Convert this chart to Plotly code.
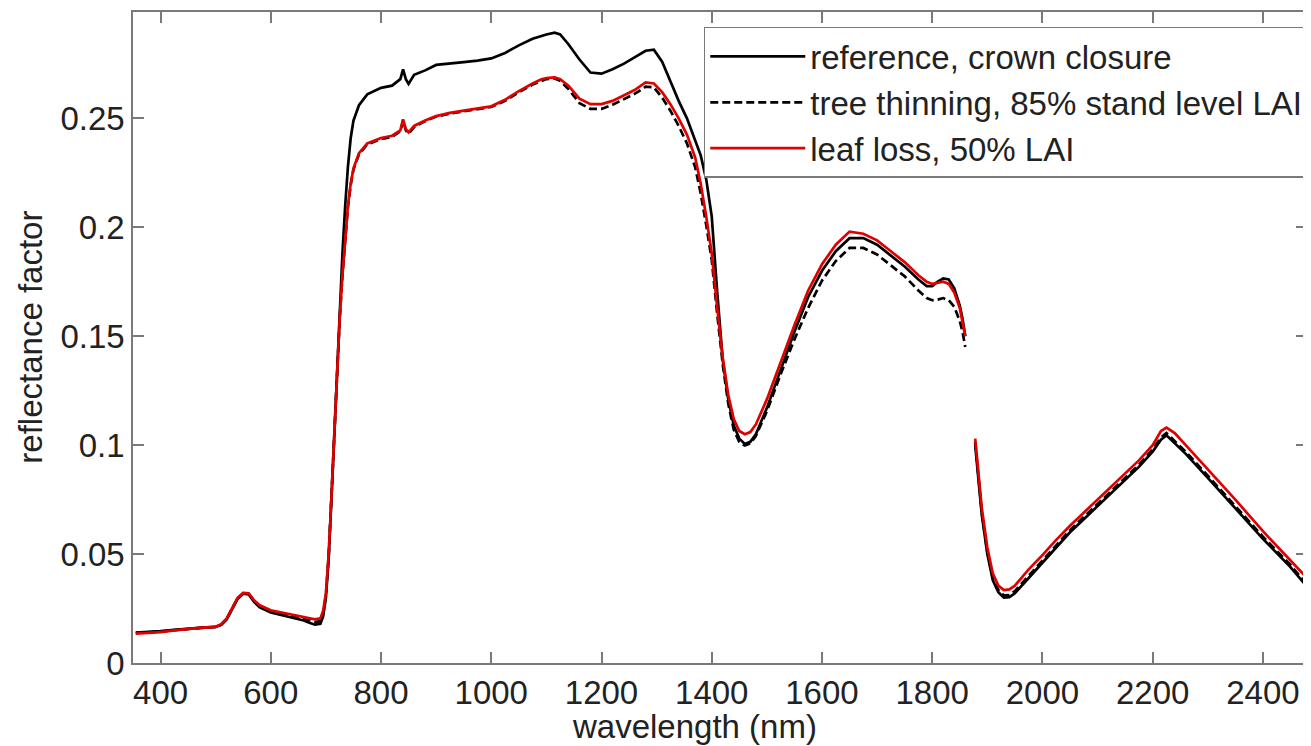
import plotly.graph_objects as go

# wavelengths (nm); None marks the water-absorption gap
wavelength = [355, 380, 400, 425, 450, 475, 500, 510, 520, 530, 540, 550, 560, 570, 580,
              600, 620, 640, 660, 670, 680, 690, 695, 700, 705, 710, 715, 720, 725, 730,
              735, 740, 745, 750, 760, 775, 800, 820, 835, 840, 845, 850, 860, 880, 900,
              925, 950, 975, 1000, 1025, 1050, 1075, 1090, 1100, 1115, 1125, 1140, 1160,
              1180, 1200, 1220, 1240, 1260, 1280, 1295, 1310, 1325, 1340, 1355, 1370,
              1380, 1390, 1400, 1410, 1420, 1430, 1440, 1450, 1460, 1470, 1480, 1500,
              1525, 1550, 1575, 1600, 1625, 1650, 1675, 1700, 1725, 1750, 1775, 1790,
              1800, 1810, 1820, 1830, 1840, 1850, 1855, 1860, 1869,
              1878, 1885, 1890, 1900, 1910, 1920, 1930, 1940, 1950, 1975, 2000, 2025,
              2050, 2075, 2100, 2125, 2150, 2175, 2200, 2215, 2225, 2240, 2260, 2300,
              2350, 2400, 2450, 2480]

reference = [0.0140, 0.0142, 0.0146, 0.0152, 0.0158, 0.0162, 0.0166, 0.0175, 0.0200, 0.0250,
             0.0295, 0.0318, 0.0315, 0.0280, 0.0255, 0.0232, 0.0220, 0.0208, 0.0195, 0.0185,
             0.0176, 0.0180, 0.0215, 0.030, 0.048, 0.075, 0.105, 0.135, 0.163, 0.188,
             0.210, 0.228, 0.241, 0.249, 0.256, 0.261, 0.264, 0.265, 0.268, 0.2725,
             0.268, 0.2658, 0.270, 0.272, 0.2745, 0.275, 0.2758, 0.2765, 0.2775, 0.280,
             0.2835, 0.2865, 0.2878, 0.2885, 0.2893, 0.2885, 0.284, 0.277, 0.271, 0.2705,
             0.2725, 0.275, 0.278, 0.281, 0.2815, 0.276, 0.267, 0.258, 0.250, 0.240,
             0.233, 0.222, 0.205, 0.170, 0.139, 0.121, 0.109, 0.103, 0.1005, 0.1015,
             0.105, 0.117, 0.135, 0.152, 0.168, 0.180, 0.189, 0.195, 0.195, 0.192,
             0.187, 0.182, 0.176, 0.173, 0.173, 0.175, 0.1765, 0.176, 0.172, 0.164,
             0.158, 0.150, None,
             0.100, 0.080, 0.068, 0.050, 0.038, 0.0325, 0.0300, 0.0302, 0.032, 0.039,
             0.046, 0.053, 0.060, 0.066, 0.072, 0.078, 0.084, 0.090, 0.097, 0.1025,
             0.1045, 0.101, 0.096, 0.085, 0.071, 0.057, 0.044, 0.035]

thinning = [0.0138, 0.0140, 0.0144, 0.0151, 0.0157, 0.0162, 0.0166, 0.0176, 0.0202, 0.0252,
            0.0297, 0.0320, 0.0317, 0.0283, 0.0260, 0.0237, 0.0226, 0.0215, 0.0204, 0.0196,
            0.0188, 0.0192, 0.0228, 0.031, 0.049, 0.0755, 0.105, 0.133, 0.158, 0.178,
            0.196, 0.2095, 0.2195, 0.2265, 0.2335, 0.238, 0.2405, 0.2415, 0.244, 0.249,
            0.2445, 0.243, 0.246, 0.2487, 0.2508, 0.2522, 0.2532, 0.2542, 0.2552, 0.258,
            0.262, 0.2655, 0.2672, 0.268, 0.2683, 0.2672, 0.2635, 0.257, 0.2543, 0.2543,
            0.2562, 0.2588, 0.2612, 0.2645, 0.2642, 0.2595, 0.2535, 0.2465, 0.2385, 0.2275,
            0.2155, 0.201, 0.185, 0.160, 0.137, 0.119, 0.107, 0.1015, 0.0998, 0.1008,
            0.1042, 0.1155, 0.1325, 0.1485, 0.163, 0.1755, 0.1845, 0.1905, 0.1905, 0.1875,
            0.1825, 0.1775, 0.171, 0.1675, 0.1665, 0.1668, 0.1675, 0.1665, 0.1635, 0.157,
            0.152, 0.145, None,
            0.1015, 0.081, 0.069, 0.051, 0.039, 0.0335, 0.031, 0.0312, 0.033, 0.040,
            0.047, 0.054, 0.061, 0.067, 0.073, 0.079, 0.085, 0.091, 0.098, 0.1035,
            0.1055, 0.102, 0.097, 0.086, 0.072, 0.058, 0.045, 0.036]

leaf_loss = [0.0135, 0.0138, 0.0142, 0.0150, 0.0157, 0.0162, 0.0166, 0.0178, 0.0205, 0.0255,
             0.0300, 0.0322, 0.0320, 0.0287, 0.0265, 0.0242, 0.0232, 0.0222, 0.0213, 0.0207,
             0.0200, 0.0205, 0.024, 0.032, 0.050, 0.076, 0.105, 0.133, 0.158, 0.178,
             0.196, 0.210, 0.220, 0.227, 0.234, 0.2385, 0.241, 0.242, 0.2445, 0.2495,
             0.245, 0.2435, 0.2465, 0.249, 0.251, 0.2525, 0.2535, 0.2545, 0.2555, 0.2585,
             0.2625, 0.266, 0.2678, 0.2685, 0.2688, 0.268, 0.265, 0.259, 0.2565, 0.2565,
             0.258, 0.2605, 0.263, 0.2665, 0.266, 0.262, 0.2565, 0.250, 0.2425, 0.232,
             0.220, 0.205, 0.188, 0.163, 0.140, 0.123, 0.112, 0.1065, 0.105, 0.106,
             0.1095, 0.121, 0.138, 0.155, 0.171, 0.183, 0.192, 0.198, 0.197, 0.194,
             0.189, 0.184, 0.178, 0.175, 0.174, 0.1745, 0.175, 0.174, 0.170, 0.163,
             0.157, 0.150, None,
             0.103, 0.083, 0.071, 0.053, 0.041, 0.0355, 0.0335, 0.0338, 0.0355, 0.043,
             0.0495, 0.0565, 0.063, 0.069, 0.075, 0.081, 0.087, 0.093, 0.100, 0.1065,
             0.108, 0.1055, 0.100, 0.089, 0.075, 0.0605, 0.047, 0.039]

series_names = ["reference, crown closure", "tree thinning, 85% stand level LAI", "leaf loss, 50% LAI"]
x_ticks = [400, 600, 800, 1000, 1200, 1400, 1600, 1800, 2000, 2200, 2400]
y_ticks = [0, 0.05, 0.1, 0.15, 0.2, 0.25]
y_tick_labels = ["0", "0.05", "0.1", "0.15", "0.2", "0.25"]

FONT = "Liberation Sans, Arial, sans-serif"
FS = 33
GRAY = "#7a7a7a"
TXT = "#222222"

fig = go.Figure()
fig.add_trace(go.Scatter(x=wavelength, y=reference, mode="lines", name=series_names[0],
                         line=dict(color="black", width=2.7)))
fig.add_trace(go.Scatter(x=wavelength, y=thinning, mode="lines", name=series_names[1],
                         line=dict(color="black", width=2.7, dash="8px,4px")))
fig.add_trace(go.Scatter(x=wavelength, y=leaf_loss, mode="lines", name=series_names[2],
                         line=dict(color="#e00000", width=2.7)))

axis_common = dict(showline=True, linecolor=GRAY, linewidth=1.5, mirror="ticks",
                   ticks="inside", ticklen=11, tickcolor=GRAY, tickwidth=1.5,
                   showgrid=False, zeroline=False, automargin=False,
                   tickfont=dict(family=FONT, size=FS, color=TXT))

fig.update_xaxes(range=[350, 2480], tickmode="array", tickvals=x_ticks, **axis_common)
fig.update_yaxes(range=[0, 0.2988], tickmode="array", tickvals=y_ticks,
                 ticktext=y_tick_labels, **axis_common)

# page body has an 8px margin: figure is sized/offset so the axes land where the reference has them
fig.update_layout(
    width=1303, height=738,
    margin=dict(l=125, r=2, t=4, b=83),
    paper_bgcolor="white", plot_bgcolor="white",
    showlegend=True,
    legend=dict(x=1.0015, y=0.977, xanchor="right", yanchor="top",
                bgcolor="white", bordercolor=GRAY, borderwidth=1.5,
                font=dict(family=FONT, size=FS, color=TXT),
                itemwidth=95, tracegroupgap=0),
    annotations=[
        dict(text="wavelength (nm)", xref="paper", yref="paper", x=0.478, y=-0.097,
             xanchor="center", yanchor="middle", showarrow=False,
             font=dict(family=FONT, size=FS, color=TXT)),
        dict(text="reflectance factor", xref="paper", yref="paper", x=-0.0876, y=0.5,
             xanchor="center", yanchor="middle", textangle=-90, showarrow=False,
             font=dict(family=FONT, size=FS, color=TXT)),
    ],
)

fig.write_html("out.html")
